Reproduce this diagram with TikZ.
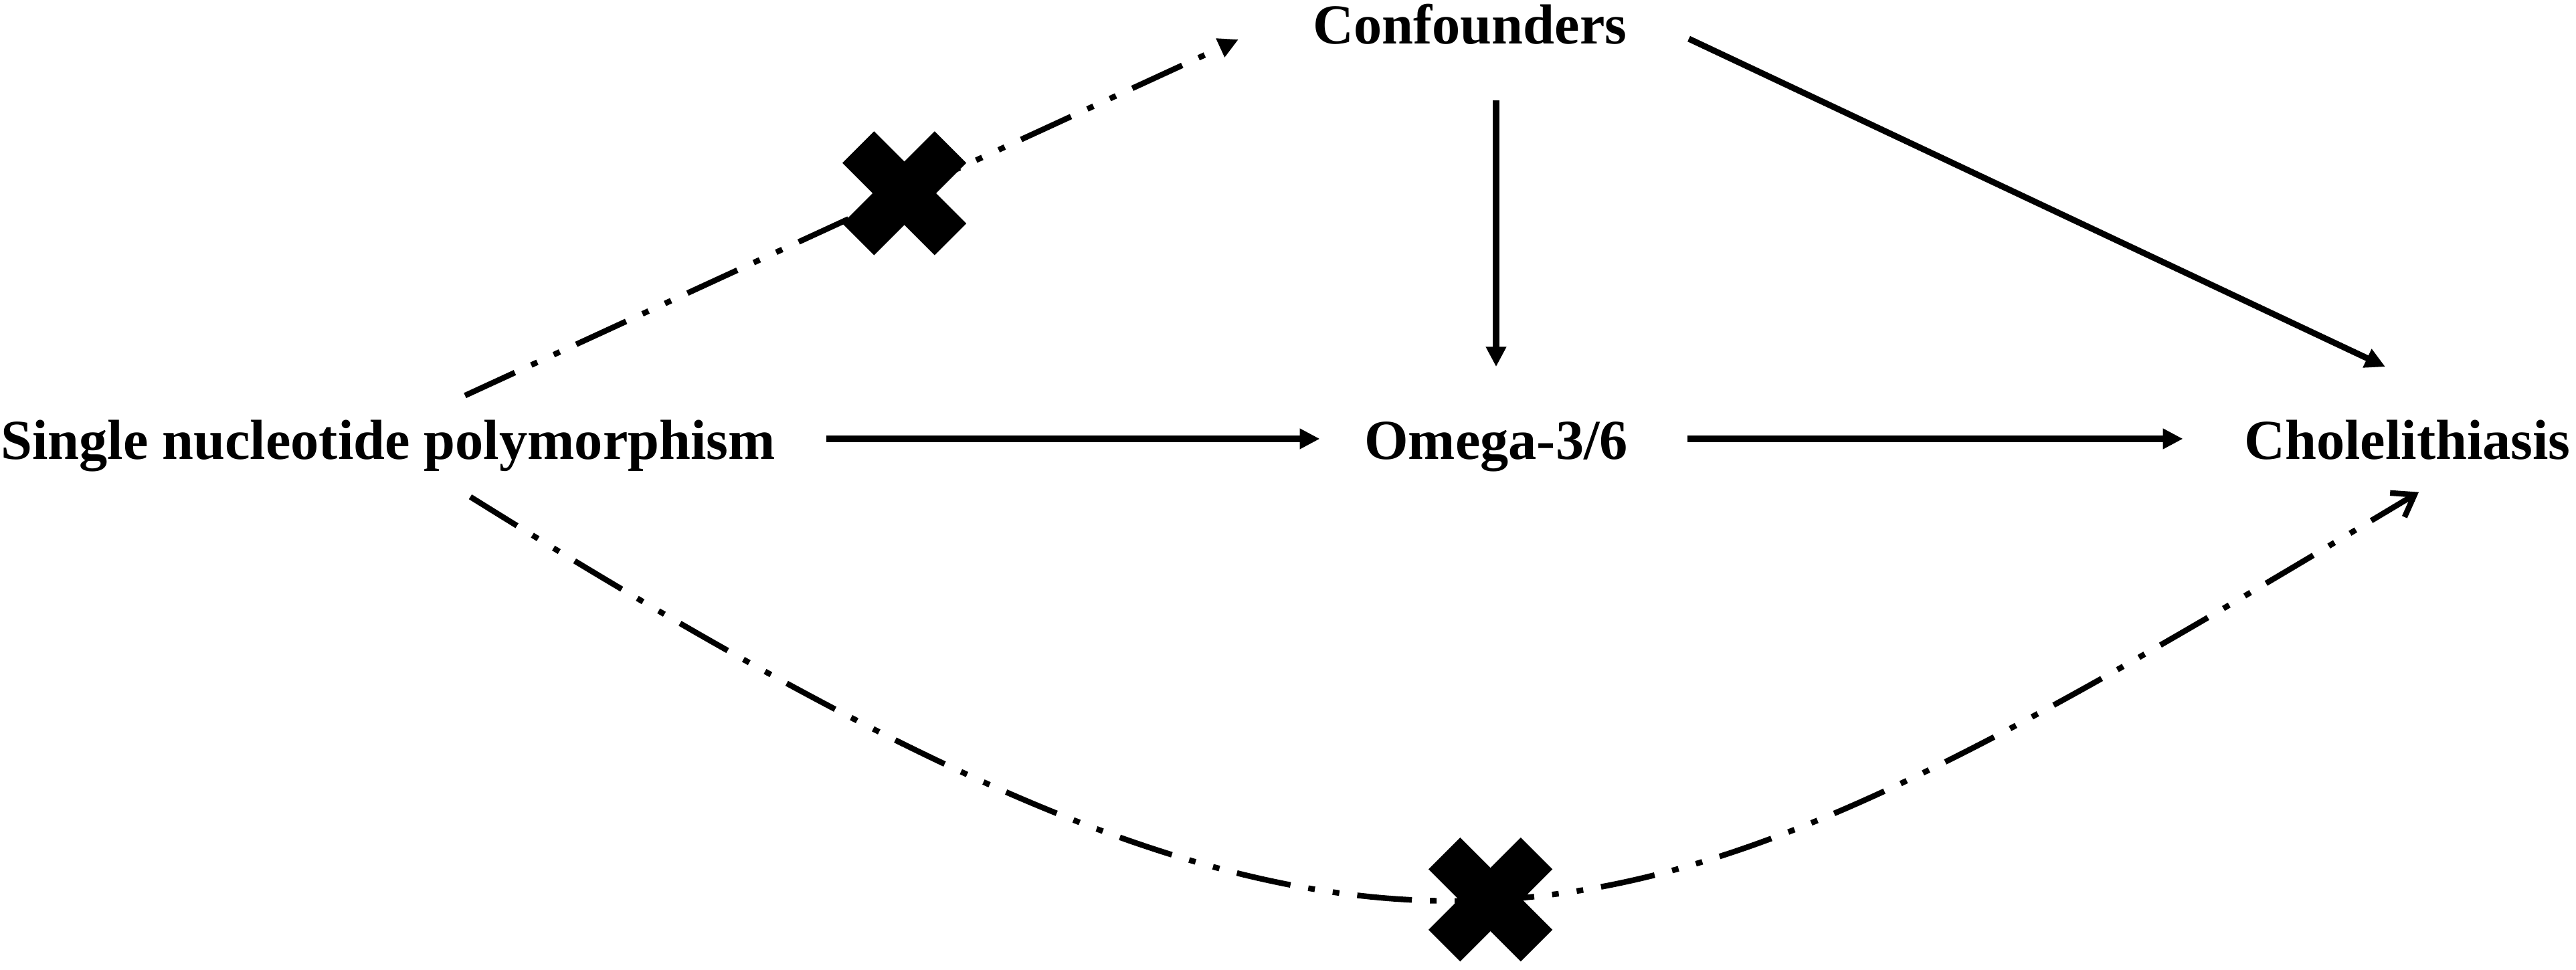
\documentclass[tikz,border=0pt]{standalone}
\usepackage{fontspec}
\setmainfont{Liberation Serif}
\usepackage{tikz}
\usetikzlibrary{arrows.meta}

\tikzset{
	lbl/.style={font=\bfseries\fontsize{24}{28}\selectfont, inner sep=0pt, anchor=base, text height=0.62cm, text depth=0pt},
	arr/.style={line width=2.6pt, -{Triangle[length=3mm, width=2.9mm]}},
	dasharr/.style={line width=2.4pt, dash pattern=on 0.82cm off 0.27cm on 0.1cm off 0.27cm on 0.1cm off 0.27cm},
	xmark/.pic={
		\fill[rotate=45] (-0.975,-0.335) rectangle (0.975,0.335);
		\fill[rotate=-45] (-0.975,-0.335) rectangle (0.975,0.335);
	}
}

\begin{document}
\begin{tikzpicture}
		\useasboundingbox (0,0) rectangle (38.5,14.5);
		
		% 变量
		\node[lbl] (snp) at (5.8,7.63) {Single nucleotide polymorphism};
		\node[lbl] (omega) at (22.36,7.63) {Omega-3/6};
		\node[lbl] (chole) at (35.98,7.63) {Cholelithiasis};
		\node[lbl] (conf) at (21.97,13.84) {Confounders};
		
		% 实线箭头
		\draw[arr, shorten <=0.75cm, shorten >=0.66cm] (snp.east) -- (omega.west);
		\draw[arr, shorten <=0.88cm, shorten >=0.91cm] (omega.east) -- (chole.west);
		\draw[arr, shorten <=0.83cm, shorten >=0.76cm] (omega |- conf.south) -- (omega.north);
		\draw[arr] ([shift={(0.92,-0.23)}]conf.east) -- ([shift={(-0.33,0.76)}]chole.north);
		
		% 虚线箭头
		\draw[dasharr, -{Triangle[length=3mm, width=2.9mm]}] ([shift={(1.15,0.33)}]snp.north) -- coordinate[pos=0.568] (xup) ([shift={(-1.11,-0.24)}]conf.west);
		\draw[dasharr, -{Straight Barb[length=3mm, width=4.2mm]}] ([shift={(1.23,-0.55)}]snp.south) .. controls (21.12,-1.72) and (23.89,-0.21) .. coordinate[pos=0.5] (xdown) ([shift={(0.17,-0.48)}]chole.south);
		
		% 叉号
		\pic at (xup) {xmark};
		\pic at (xdown) {xmark};
	\end{tikzpicture}
\end{document}
